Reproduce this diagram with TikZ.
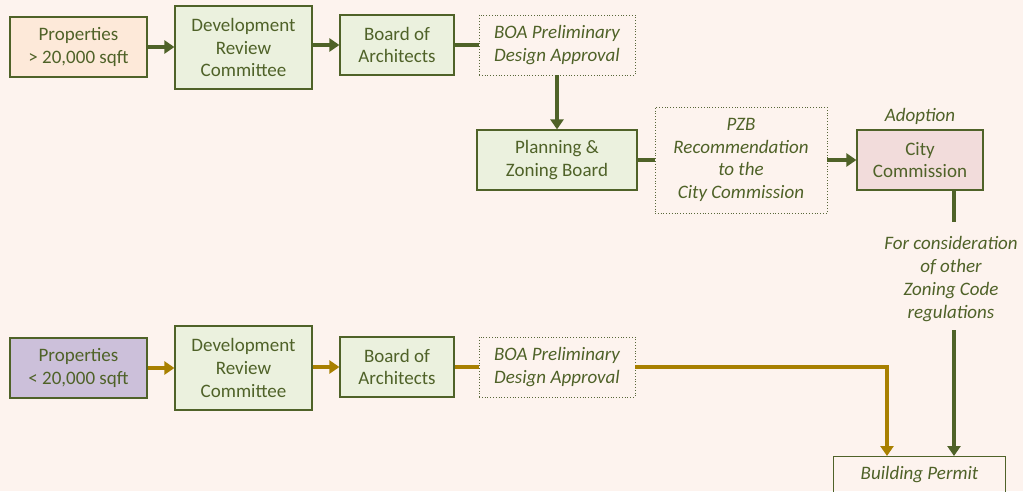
\documentclass[tikz,border=0pt]{standalone}
\usepackage{fontspec}
\setmainfont{Carlito}
\usetikzlibrary{arrows.meta}
\definecolor{bg}{HTML}{FDF3EE}
\definecolor{dg}{HTML}{4F6228}
\definecolor{gold}{HTML}{A88000}
\definecolor{peach}{HTML}{FDE9D9}
\definecolor{lgreen}{HTML}{EBF1DE}
\definecolor{pinkc}{HTML}{F2DCDB}
\definecolor{lav}{HTML}{CCC0DA}
\tikzset{
  txt/.style={font=\fontsize{19}{22.7}\selectfont\strut},
  box/.style={draw=dg, line width=1.2pt, text=dg, align=center, inner sep=0pt,
    font=\fontsize{19}{22.7}\selectfont},
  dotbox/.style={draw=dg!80!gray, dotted, line width=0.8pt, text=dg, align=center, inner sep=0pt,
    font=\fontsize{19}{22.7}\selectfont\itshape},
  lbl/.style={text=dg, align=center, inner sep=0pt, font=\fontsize{19}{22.7}\selectfont\itshape},
  garr/.style={draw=dg, line width=4pt, -{Triangle[length=10pt,width=13pt]}},
  gline/.style={draw=dg, line width=4pt},
  yarr/.style={draw=gold, line width=4pt, -{Triangle[length=10pt,width=13pt]}},
  yline/.style={draw=gold, line width=4pt},
}
\begin{document}
\begin{tikzpicture}[x=1pt,y=-1pt]
\fill[bg] (0,0) rectangle (1023,491);
\useasboundingbox (0,0) rectangle (1023,491);
\clip (0,0) rectangle (1023,491);
% top row
\node[box, fill=peach, minimum width=137, minimum height=60] (p1) at (78.5,47) {Properties\\> 20,000 sqft};
\node[box, fill=lgreen, minimum width=137, minimum height=83] (d1) at (243.5,47.5) {Development\\Review\\Committee};
\node[box, fill=lgreen, minimum width=114, minimum height=60] (b1) at (397,45) {Board of\\Architects};
\node[dotbox, minimum width=156, minimum height=60] (a1) at (557,45) {BOA Preliminary\\Design Approval};
\node[box, fill=lgreen, minimum width=160, minimum height=60] (pz) at (557,160) {Planning \&\\Zoning Board};
\node[dotbox, minimum width=172, minimum height=106] (r) at (741,160) {PZB\\Recommendation\\to the\\City Commission};
\node[box, fill=pinkc, minimum width=126, minimum height=60] (cc) at (920,160) {City\\Commission};
\node[lbl, anchor=south] (ad) at (920,125) {Adoption};
\node[lbl] (fc) at (951,279) {For consideration\\of other\\Zoning Code\\regulations};
% bottom row
\node[box, fill=lav, minimum width=137, minimum height=60] (p2) at (78.5,368) {Properties\\< 20,000 sqft};
\node[box, fill=lgreen, minimum width=137, minimum height=84] (d2) at (243.5,368) {Development\\Review\\Committee};
\node[box, fill=lgreen, minimum width=114, minimum height=60] (b2) at (397,367) {Board of\\Architects};
\node[dotbox, minimum width=156, minimum height=60] (a2) at (557,367) {BOA Preliminary\\Design Approval};
\node[box, draw=dg, line width=0.9pt, minimum width=172, minimum height=60, anchor=north] (bp) at (919.5,456) {};
\node[lbl] (bpt) at (919.5,475) {Building Permit};
% connectors top
\draw[garr] (p1.east) -- (d1.west |- p1.east);
\draw[garr] (d1.east |- b1.east) -- (b1.west);
\draw[gline] (b1.east) -- (a1.west);
\draw[garr] (a1.south) -- (pz.north);
\draw[gline] (pz.east) -- (r.west);
\draw[garr] (r.east) -- (cc.west);
\coordinate (c1) at (954,222);
\coordinate (c2) at (954,330);
\draw[gline] (cc.south -| c1) -- (c1);
\draw[garr] (c2) -- (c2 |- bp.north);
% connectors bottom
\draw[yarr] (p2.east) -- (d2.west |- p2.east);
\draw[yarr] (d2.east |- b2.east) -- (b2.west);
\draw[yline] (b2.east) -- (a2.west);
\coordinate (g1) at (887,367);
\draw[yarr] (a2.east) -- (g1) -- (g1 |- bp.north);
\end{tikzpicture}
\end{document}
